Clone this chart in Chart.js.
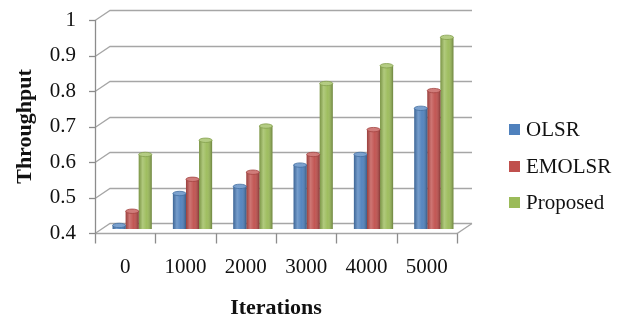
<!DOCTYPE html>
<html>
<head>
<meta charset="utf-8">
<script src="https://cdn.jsdelivr.net/npm/chart.js@4"></script>
<style>
  html, body { margin: 0; padding: 0; background: #ffffff; }
  #wrap { width: 629px; height: 320px; position: relative; }
</style>
</head>
<body>
<div id="wrap"><canvas id="chart" width="629" height="320"></canvas></div>
<script>
// Throughput per iteration count for the three routing schemes
const iterations = ['0', '1000', '2000', '3000', '4000', '5000'];
const olsr     = [0.41, 0.50, 0.52, 0.58, 0.61, 0.74];
const emolsr   = [0.45, 0.54, 0.56, 0.61, 0.68, 0.79];
const proposed = [0.61, 0.65, 0.69, 0.81, 0.86, 0.94];
const seriesNames  = ['OLSR', 'EMOLSR', 'Proposed'];
const seriesColors = ['#4F81BD', '#C0504D', '#9BBB59'];
const yTickValues  = [0.4, 0.5, 0.6, 0.7, 0.8, 0.9, 1];

const SERIF = '"Liberation Serif", "Times New Roman", serif';
const DEPTH_X = 15, DEPTH_Y = 10;     // offset of the back wall
const BAR_DX = 7, BAR_DY = 4;         // bars stand half way into the depth
const GRID = '#a6a6a6';
const AXIS = '#8c8c8c';

function lighten(hex, t) {
  const n = parseInt(hex.slice(1), 16);
  const r = (n >> 16) & 255, g = (n >> 8) & 255, b = n & 255;
  const m = c => Math.round(c + (255 - c) * t);
  return `rgb(${m(r)},${m(g)},${m(b)})`;
}
function darken(hex, t) {
  const n = parseInt(hex.slice(1), 16);
  const r = (n >> 16) & 255, g = (n >> 8) & 255, b = n & 255;
  const m = c => Math.round(c * (1 - t));
  return `rgb(${m(r)},${m(g)},${m(b)})`;
}

// Draws the pseudo-3D walls, floor and axis ticks, then shifts the bars into depth
const depthPlugin = {
  id: 'depth3d',
  beforeDatasetsDraw(chart) {
    const { ctx, chartArea: a, scales: { x, y } } = chart;
    ctx.save();
    ctx.lineWidth = 1.3;
    // back wall gridlines with their side-wall diagonals
    yTickValues.forEach(v => {
      const py = Math.round(y.getPixelForValue(v)) + 0.5;
      ctx.strokeStyle = GRID;
      ctx.beginPath();
      ctx.moveTo(a.left, py);
      ctx.lineTo(a.left + DEPTH_X, py - DEPTH_Y);
      ctx.lineTo(a.right + DEPTH_X, py - DEPTH_Y);
      ctx.stroke();
      ctx.strokeStyle = AXIS;
      ctx.beginPath();
      ctx.moveTo(a.left - 6, py);
      ctx.lineTo(a.left, py);
      ctx.stroke();
    });
    // floor
    const fy = Math.round(a.bottom) + 0.5;
    ctx.strokeStyle = GRID;
    ctx.beginPath();
    ctx.moveTo(a.left, fy);
    ctx.lineTo(a.right, fy);
    ctx.lineTo(a.right + DEPTH_X, fy - DEPTH_Y);
    ctx.stroke();
    // front vertical axis
    ctx.strokeStyle = AXIS;
    ctx.beginPath();
    ctx.moveTo(a.left + 0.5, y.getPixelForValue(1));
    ctx.lineTo(a.left + 0.5, fy);
    ctx.stroke();
    // category boundary ticks
    const step = (a.right - a.left) / iterations.length;
    for (let i = 0; i <= iterations.length; i++) {
      const px = Math.round(a.left + i * step) + 0.5;
      ctx.beginPath();
      ctx.moveTo(px, fy);
      ctx.lineTo(px, fy + 10);
      ctx.stroke();
    }
    ctx.restore();
    ctx.save();
    ctx.translate(BAR_DX, -BAR_DY);
  },
  afterDatasetsDraw(chart) {
    const { ctx } = chart;
    // cylinder shading over each bar
    chart.data.datasets.forEach((ds, di) => {
      const meta = chart.getDatasetMeta(di);
      const base = seriesColors[di];
      meta.data.forEach(el => {
        const p = el.getProps(['x', 'y', 'base', 'width'], true);
        const l = p.x - p.width / 2;
        const g = ctx.createLinearGradient(l, 0, l + p.width, 0);
        g.addColorStop(0, 'rgba(0,0,0,0.20)');
        g.addColorStop(0.3, 'rgba(255,255,255,0.22)');
        g.addColorStop(0.6, 'rgba(255,255,255,0.04)');
        g.addColorStop(1, 'rgba(0,0,0,0.30)');
        ctx.fillStyle = g;
        ctx.fillRect(l, p.y, p.width, p.base - p.y);
        ctx.beginPath();
        ctx.ellipse(p.x, p.y, p.width / 2, 2.2, 0, 0, Math.PI * 2);
        ctx.fillStyle = lighten(base, 0.25);
        ctx.fill();
        ctx.strokeStyle = darken(base, 0.15);
        ctx.lineWidth = 0.8;
        ctx.stroke();
      });
    });
    ctx.restore();
  },
  afterDraw(chart) {
    // legend on the right
    const { ctx } = chart;
    ctx.save();
    ctx.font = `21px ${SERIF}`;
    ctx.textBaseline = 'middle';
    ctx.textAlign = 'left';
    const ys = [129, 166, 202];
    chart.data.datasets.forEach((ds, i) => {
      ctx.fillStyle = ds.backgroundColor;
      ctx.fillRect(509, ys[i] - 5, 11, 11);
      ctx.fillStyle = '#111';
      ctx.fillText(ds.label, 526, ys[i] + 1);
    });
    ctx.restore();
  }
};

new Chart(document.getElementById('chart'), {
  type: 'bar',
  data: {
    labels: iterations,
    datasets: [
      { label: seriesNames[0], data: olsr,     backgroundColor: seriesColors[0] },
      { label: seriesNames[1], data: emolsr,   backgroundColor: seriesColors[1] },
      { label: seriesNames[2], data: proposed, backgroundColor: seriesColors[2] }
    ]
  },
  options: {
    responsive: false,
    animation: false,
    devicePixelRatio: 1,
    layout: { autoPadding: false, padding: { top: 20, right: 172, left: 0, bottom: 0 } },
    datasets: { bar: { barPercentage: 1.0, categoryPercentage: 0.65, clip: false, borderWidth: 0, base: 0.4 } },
    plugins: { legend: { display: false }, tooltip: { enabled: false } },
    scales: {
      x: {
        grid: { display: false, drawTicks: false },
        border: { display: false },
        ticks: { color: '#111', font: { family: SERIF, size: 21 }, padding: 22, maxRotation: 0 },
        title: { display: true, text: 'Iterations', color: '#111',
                 font: { family: SERIF, size: 22, weight: 'bold' }, padding: { top: 0, bottom: -2 } },
        afterFit(s) { s.height = 87; }
      },
      y: {
        min: 0.4, max: 1,
        grid: { display: false, drawTicks: false },
        border: { display: false },
        afterBuildTicks(s) { s.ticks = yTickValues.map(v => ({ value: v })); },
        ticks: {
          color: '#111', font: { family: SERIF, size: 21, lineHeight: 0.1 }, padding: 19,
          callback: v => String(Math.round(v * 10) / 10)
        },
        title: { display: true, text: 'Throughput', color: '#111',
                 font: { family: SERIF, size: 22, weight: 'bold' }, padding: { top: 12, bottom: 0 } },
        afterFit(s) { s.width = 95; }
      }
    }
  },
  plugins: [depthPlugin]
});
</script>
</body>
</html>
